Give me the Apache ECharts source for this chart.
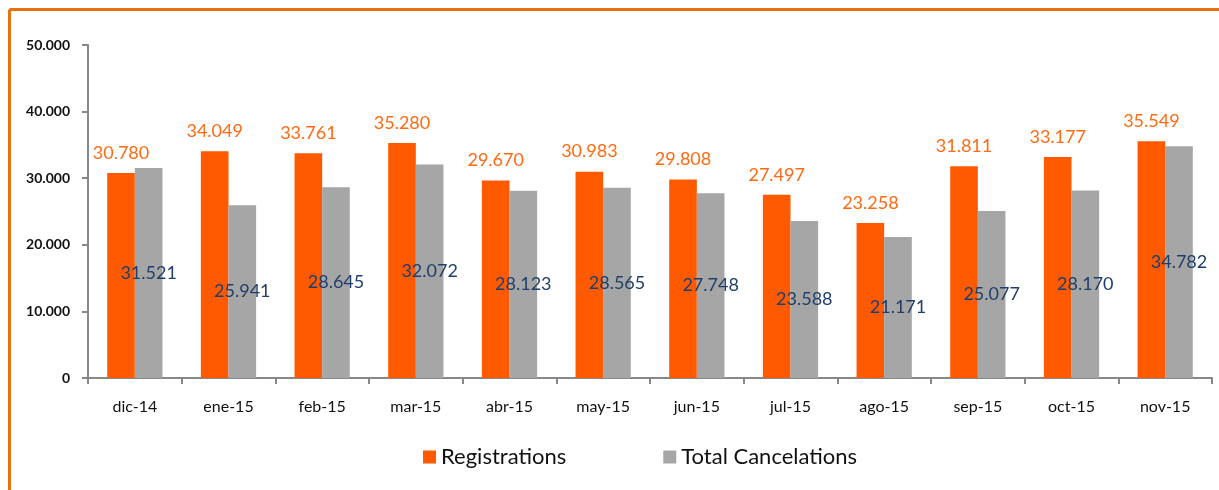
<!DOCTYPE html>
<html>
<head>
<meta charset="utf-8">
<script src="https://cdn.jsdelivr.net/npm/echarts@6/dist/echarts.min.js"></script>
<style>
  html, body { margin: 0; padding: 0; background: #fff; }
  #chart { width: 1219px; height: 490px; }
</style>
</head>
<body>
<div id="chart"></div>
<script>
const categories = ['dic-14', 'ene-15', 'feb-15', 'mar-15', 'abr-15', 'may-15', 'jun-15', 'jul-15', 'ago-15', 'sep-15', 'oct-15', 'nov-15']
const registrations = [30780, 34049, 33761, 35280, 29670, 30983, 29808, 27497, 23258, 31811, 33177, 35549]
const cancelations = [31521, 25941, 28645, 32072, 28123, 28565, 27748, 23588, 21171, 25077, 28170, 34782]

const fmt = v => String(v).replace(/\B(?=(\d{3})+(?!\d))/g, '.')

const chart = echarts.init(document.getElementById('chart'))
chart.setOption({
  animation: false,
  textStyle: { fontFamily: 'Lato, sans-serif' },
  graphic: [
    { type: 'line', shape: { x1: 9.5, y1: 9.5, x2: 1219, y2: 9.5 }, style: { stroke: '#e8700f', lineWidth: 3 } },
    { type: 'line', shape: { x1: 9.5, y1: 9.5, x2: 9.5, y2: 490 }, style: { stroke: '#e8700f', lineWidth: 3 } }
  ],
  legend: {
    top: 441,
    left: 418,
    itemGap: 97,
    itemWidth: 13,
    itemHeight: 13,
    icon: 'rect',
    textStyle: { fontSize: 22, color: '#111' },
    data: ['Registrations', 'Total Cancelations']
  },
  grid: { left: 88, right: 7, top: 45, bottom: 112 },
  xAxis: {
    type: 'category',
    data: categories,
    axisLine: { lineStyle: { color: '#888', width: 2 } },
    axisTick: { show: true, length: 6, lineStyle: { color: '#888', width: 2 } },
    axisLabel: { color: '#111', fontSize: 16, margin: 21 }
  },
  yAxis: {
    type: 'value',
    min: 0,
    max: 50000,
    interval: 10000,
    axisLine: { show: true, lineStyle: { color: '#888', width: 2 } },
    axisTick: { show: true, length: 6, lineStyle: { color: '#888', width: 2 } },
    splitLine: { show: false },
    axisLabel: { color: '#111', fontSize: 14, fontWeight: 'bold', margin: 18, formatter: fmt }
  },
  series: [
    {
      name: 'Registrations',
      type: 'bar',
      data: registrations,
      barGap: '0%',
      barCategoryGap: '41%',
      itemStyle: { color: '#ff5a00' },
      label: {
        show: true,
        position: 'top',
        distance: 11,
        color: '#ff6a13',
        fontSize: 18,
        formatter: p => fmt(p.value)
      }
    },
    {
      name: 'Total Cancelations',
      type: 'bar',
      data: cancelations,
      itemStyle: { color: '#a6a6a6' },
      label: {
        show: true,
        position: 'inside',
        color: '#1f3f6b',
        fontSize: 18,
        formatter: p => fmt(p.value)
      }
    }
  ]
})
</script>
</body>
</html>
